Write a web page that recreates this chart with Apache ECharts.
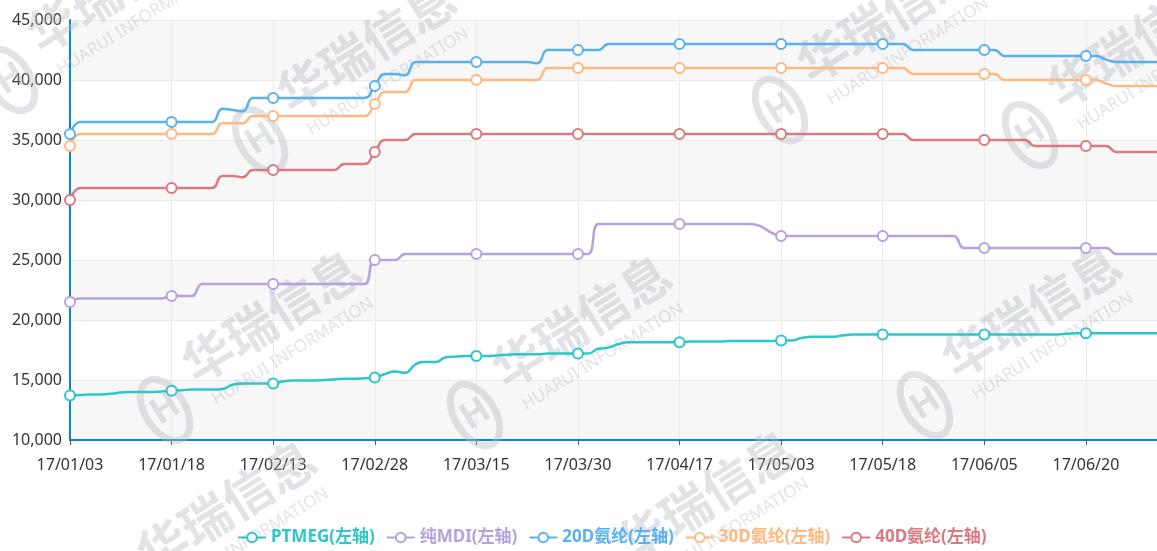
<!DOCTYPE html>
<html>
<head>
<meta charset="utf-8">
<title>氨纶及原料价格</title>
<script src="https://cdn.jsdelivr.net/npm/echarts@6/dist/echarts.min.js"></script>
<style>
  html, body { margin: 0; padding: 0; background: #fff; }
  #main { width: 1157px; height: 551px; }
</style>
</head>
<body>
<div id="main"></div>
<script>
// 日期（类目轴）
var dates = [
  '17/01/03','17/01/04','17/01/05','17/01/06','17/01/09','17/01/10','17/01/11','17/01/12','17/01/13','17/01/16',
  '17/01/18','17/01/19','17/01/20','17/01/22','17/01/23','17/01/24','17/01/25','17/02/03','17/02/06','17/02/08',
  '17/02/13','17/02/14','17/02/15','17/02/16','17/02/17','17/02/20','17/02/21','17/02/22','17/02/23','17/02/24',
  '17/02/28','17/03/01','17/03/02','17/03/03','17/03/06','17/03/07','17/03/08','17/03/09','17/03/10','17/03/13',
  '17/03/15','17/03/16','17/03/17','17/03/20','17/03/21','17/03/22','17/03/23','17/03/24','17/03/27','17/03/28',
  '17/03/30','17/03/31','17/04/05','17/04/06','17/04/07','17/04/10','17/04/11','17/04/12','17/04/13','17/04/14',
  '17/04/17','17/04/18','17/04/19','17/04/20','17/04/21','17/04/24','17/04/25','17/04/26','17/04/27','17/04/28',
  '17/05/03','17/05/04','17/05/05','17/05/08','17/05/09','17/05/10','17/05/11','17/05/12','17/05/15','17/05/16',
  '17/05/18','17/05/19','17/05/22','17/05/23','17/05/24','17/05/25','17/05/26','17/05/31','17/06/01','17/06/02',
  '17/06/05','17/06/06','17/06/07','17/06/08','17/06/09','17/06/12','17/06/13','17/06/14','17/06/15','17/06/16',
  '17/06/20','17/06/21','17/06/22','17/06/23','17/06/26','17/06/27','17/06/28','17/06/29'
];

var ptmeg = [
  13700,13750,13800,13800,13850,13950,14000,14000,14000,14050,
  14100,14150,14200,14200,14200,14250,14600,14700,14700,14700,
  14700,14900,14950,14950,14950,15000,15050,15100,15100,15150,
  15200,15500,15700,15600,16300,16500,16500,16900,16950,17000,
  17000,17000,17050,17100,17150,17150,17150,17200,17200,17200,
  17200,17200,17600,17700,18000,18150,18150,18150,18150,18150,
  18150,18200,18200,18200,18200,18250,18250,18250,18250,18250,
  18300,18300,18500,18600,18600,18600,18700,18800,18800,18800,
  18800,18800,18800,18800,18800,18800,18800,18800,18800,18800,
  18800,18800,18800,18800,18800,18800,18800,18800,18850,18900,
  18900,18900,18900,18900,18900,18900,18900,18900
];

var mdi = [
  21500,21800,21800,21800,21800,21800,21800,21800,21800,21800,
  22000,22000,22000,23000,23000,23000,23000,23000,23000,23000,
  23000,23000,23000,23000,23000,23000,23000,23000,23000,23000,
  25000,25000,25000,25500,25500,25500,25500,25500,25500,25500,
  25500,25500,25500,25500,25500,25500,25500,25500,25500,25500,
  25500,25500,28000,28000,28000,28000,28000,28000,28000,28000,
  28000,28000,28000,28000,28000,28000,28000,28000,27800,27300,
  27000,27000,27000,27000,27000,27000,27000,27000,27000,27000,
  27000,27000,27000,27000,27000,27000,27000,27000,26000,26000,
  26000,26000,26000,26000,26000,26000,26000,26000,26000,26000,
  26000,26000,26000,25500,25500,25500,25500,25500
];

var d20 = [
  35500,36500,36500,36500,36500,36500,36500,36500,36500,36500,
  36500,36500,36500,36500,36500,37600,37500,37400,38500,38500,
  38500,38500,38500,38500,38500,38500,38500,38500,38500,38500,
  39500,40500,40500,40400,41500,41500,41500,41500,41500,41500,
  41500,41500,41500,41500,41500,41500,41400,42500,42500,42500,
  42500,42500,42500,43000,43000,43000,43000,43000,43000,43000,
  43000,43000,43000,43000,43000,43000,43000,43000,43000,43000,
  43000,43000,43000,43000,43000,43000,43000,43000,43000,43000,
  43000,43000,43000,42500,42500,42500,42500,42500,42500,42500,
  42500,42500,42000,42000,42000,42000,42000,42000,42000,42000,
  42000,42000,41700,41500,41500,41500,41500,41500
];

var d30 = [
  34500,35500,35500,35500,35500,35500,35500,35500,35500,35500,
  35500,35500,35500,35500,35500,36400,36400,36400,37000,37000,
  37000,37000,37000,37000,37000,37000,37000,37000,37000,37000,
  38000,39000,39000,39000,40000,40000,40000,40000,40000,40000,
  40000,40000,40000,40000,40000,40000,40000,41000,41000,41000,
  41000,41000,41000,41000,41000,41000,41000,41000,41000,41000,
  41000,41000,41000,41000,41000,41000,41000,41000,41000,41000,
  41000,41000,41000,41000,41000,41000,41000,41000,41000,41000,
  41000,41000,41000,40500,40500,40500,40500,40500,40500,40500,
  40500,40500,40000,40000,40000,40000,40000,40000,40000,40000,
  40000,40000,39700,39500,39500,39500,39500,39500
];

var d40 = [
  30000,31000,31000,31000,31000,31000,31000,31000,31000,31000,
  31000,31000,31000,31000,31000,32000,32000,31900,32500,32500,
  32500,32500,32500,32500,32500,32500,32500,33000,33000,33000,
  34000,35000,35000,35000,35500,35500,35500,35500,35500,35500,
  35500,35500,35500,35500,35500,35500,35500,35500,35500,35500,
  35500,35500,35500,35500,35500,35500,35500,35500,35500,35500,
  35500,35500,35500,35500,35500,35500,35500,35500,35500,35500,
  35500,35500,35500,35500,35500,35500,35500,35500,35500,35500,
  35500,35500,35500,35000,35000,35000,35000,35000,35000,35000,
  35000,35000,35000,35000,35000,34500,34500,34500,34500,34500,
  34500,34500,34500,34000,34000,34000,34000,34000
];

var seriesNames = ['PTMEG(左轴)', '纯MDI(左轴)', '20D氨纶(左轴)', '30D氨纶(左轴)', '40D氨纶(左轴)'];
var seriesData = [ptmeg, mdi, d20, d30, d40];
var colors = ['#2ec7c9', '#b6a2de', '#5ab1ef', '#ffb980', '#d87a80'];

var FONT = '"Noto Sans", "Noto Sans CJK SC", sans-serif';

// 水印
var wmSpots = [[10, 80], [260, 140], [780, 110], [1030, 135], [165, 410], [475, 415], [925, 405], [120, 600], [600, 590]];
function watermark(pos) {
  var c = 'rgba(180,185,196,0.4)';
  return {
    type: 'group',
    x: pos[0], y: pos[1],
    rotation: 0.56,
    silent: true,
    children: [
      { type: 'ellipse', z: 1, shape: { cx: 0, cy: 0, rx: 20, ry: 34 }, style: { fill: 'none', stroke: c, lineWidth: 7 } },
      { type: 'text', z: 1, x: -13, y: -18, style: { text: 'H', fill: c, font: 'bold 36px ' + FONT } },
      { type: 'text', z: 1, x: 40, y: -48, style: { text: '华瑞信息', fill: c, font: 'bold 50px "Noto Sans CJK SC"' } },
      { type: 'text', z: 1, x: 46, y: 10, style: { text: 'HUARUI INFORMATION', fill: c, font: '17px ' + FONT } }
    ]
  };
}

var chart = echarts.init(document.getElementById('main'));

chart.setOption({
  animation: false,
  color: colors,
  textStyle: { fontFamily: FONT },
  graphic: wmSpots.map(watermark),
  grid: { left: 70, right: 0, top: 20, bottom: 111 },
  legend: {
    bottom: 0,
    left: 232,
    itemWidth: 28,
    itemHeight: 12,
    itemGap: 11,
    data: seriesNames.map(function (n, i) {
      return { name: n, textStyle: { color: colors[i] } };
    }),
    textStyle: { fontSize: 17, fontWeight: 'bold', fontFamily: FONT }
  },
  xAxis: {
    type: 'category',
    boundaryGap: false,
    data: dates,
    axisLine: { lineStyle: { color: '#008acd', width: 2 } },
    axisTick: { show: true, interval: 9, length: 5, lineStyle: { color: '#555' } },
    axisLabel: { interval: 9, color: '#333', fontSize: 16, margin: 17 },
    splitLine: { show: true, interval: 9, lineStyle: { color: '#eaeaea' } }
  },
  yAxis: {
    type: 'value',
    min: 10000,
    max: 45000,
    interval: 5000,
    axisLine: { show: true, lineStyle: { color: '#008acd', width: 2 } },
    axisTick: { show: false },
    axisLabel: {
      color: '#333',
      fontSize: 16,
      margin: 8,
      formatter: function (v) { return v.toLocaleString('en-US'); }
    },
    splitLine: { lineStyle: { color: '#eaeaea' } },
    splitArea: { show: true, areaStyle: { color: ['#f7f7f7', '#ffffff'] } }
  },
  series: seriesNames.map(function (n, i) {
    return {
      name: n,
      type: 'line',
      data: seriesData[i],
      smooth: true,
      showAllSymbol: true,
      symbol: 'emptyCircle',
      symbolSize: function (v, p) { return p.dataIndex % 10 === 0 ? 10 : 0; },
      lineStyle: { width: 2.5 },
      itemStyle: { borderWidth: 2 }
    };
  })
});
</script>
</body>
</html>
